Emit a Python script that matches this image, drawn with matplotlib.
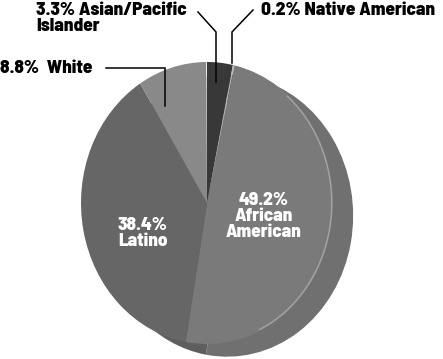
import numpy as np
import matplotlib.pyplot as plt

# slices, clockwise from 12 o'clock
groups = ["Asian/Pacific Islander", "Native American", "African American", "Latino", "White"]
shares = [3.3, 0.2, 49.2, 38.4, 8.8]
gap = [0.1]  # remainder to 100 shows as a thin light line

top_colors = ["#383838", "#b8b8b8", "#7a7a7a", "#666666", "#898989", "#e8e8e8"]
side_colors = ["#2e2e2e", "#9a9a9a", "#707070", "#5e5e5e", "#7e7e7e", "#cfcfcf"]

W, H = 443, 359
fig = plt.figure(figsize=(W / 100, H / 100), dpi=100, facecolor="white")
ax = fig.add_axes([0, 0, 1, 1])

# pie centre and radii in pixels (pie is a bit taller than wide)
cx, cy, rx, ry = 207, 203, 126, 141

def px(x, y):
    return (x - cx) / rx, (cy - y) / ry

vals = shares + gap
# side of the pie (3D thickness), shifted right/down
ax.pie(vals, colors=side_colors, startangle=90, counterclock=False,
       center=(0.16, -0.09), wedgeprops=dict(linewidth=0))
ax.pie(vals, colors=top_colors, startangle=90, counterclock=False,
       wedgeprops=dict(linewidth=0))

# faint rim highlight on the right of the top face
t = np.linspace(np.radians(-65), np.radians(50), 80)
ax.plot(0.99 * np.cos(t), 0.99 * np.sin(t), color="#a4a4a4", lw=1.0)

ax.set_aspect("auto")
ax.set_xlim(-cx / rx, (W - cx) / rx)
ax.set_ylim(-(H - cy) / ry, cy / ry)
ax.axis("off")

font = dict(family=["Barlow Semi Condensed", "DejaVu Sans"], fontweight=800, fontsize=13.8)

def leader(pts):
    xs, ys = zip(*[px(x, y) for x, y in pts])
    ax.plot(xs, ys, color="black", lw=1.1, solid_joinstyle="miter")

leader([(198, 12), (216, 32), (216, 82)])
leader([(253, 10), (232, 32), (232, 63)])
leader([(106, 68), (165, 68), (165, 106)])

ax.text(*px(36, 2), f"{shares[0]}% Asian/Pacific\nIslander", ha="left", va="top",
        linespacing=1.0, **font)
ax.text(*px(261, 2), f"{shares[1]}% {groups[1]}", ha="left", va="top", **font)
ax.text(*px(0, 60), f"{shares[4]}%  {groups[4]}", ha="left", va="top", **font)

ax.text(*px(264, 216), f"{shares[2]}%\nAfrican\nAmerican", color="white",
        ha="center", va="center", linespacing=1.0, **font)
ax.text(*px(143, 233), f"{shares[3]}%\n{groups[3]}", color="white",
        ha="center", va="center", linespacing=1.0, **font)

fig.savefig("out.png", dpi=100, facecolor="white")
